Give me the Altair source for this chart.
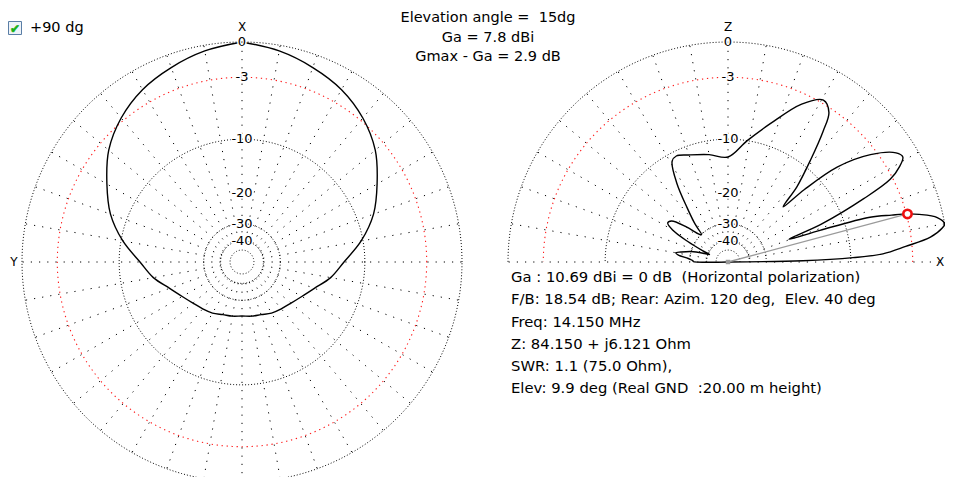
import altair as alt
import pandas as pd
import numpy as np

# ---------------- data ----------------
# Azimuth pattern (left plot): angle from +X (top) towards +Y (left), dB (symmetric)
az_angles = [0, 10, 20, 30, 40, 50, 60, 70, 80, 90, 100, 110, 120, 130, 140, 150, 160, 170, 180]
az_db = [0.0, -0.45, -1.05, -1.72, -2.70, -4.03, -5.90, -7.76, -10.26, -13.19,
         -15.34, -18.02, -19.9, -21.19, -22.0, -22.59, -23.48, -23.79, -24.1]

# Elevation pattern (right plot): elevation angle (deg), dB
el_angles = [0, 1, 2, 3, 5, 7, 9, 10, 12, 14, 15, 16, 17.5, 19, 20.5, 22, 25, 27, 29, 31, 33,
             37, 41, 43.5, 45, 47.5, 51, 54, 56, 59.5, 65, 73, 81, 90, 100, 110, 116, 119,
             123, 127, 131, 134, 136, 140, 144, 147, 150, 153, 156, 158, 160, 164, 168, 170,
             172, 175, 178, 179, 180]
el_db = [-99, -18.5, -9.7, -6.0, -3.6, -1.3, -0.24, 0.0, -0.48, -1.9, -2.9, -4.4, -6.7, -14.0,
         -20.9, -13.5, -6.6, -3.25, -2.0, -1.3, -1.6, -3.6, -7.2, -12.7, -17.8, -13.2, -8.9,
         -5.25, -3.4, -2.7, -4.0, -7.2, -10.0, -12.7, -12.05, -11.3, -10.7, -11.1, -14.6,
         -20.2, -25.4, -30.1, -29.3, -23.8, -19.7, -19.2, -21.2, -27.2, -35.4, -41.2, -37.3,
         -30.1, -26.1, -24.4, -25.4, -29.3, -31.6, -31.6, -99]

marker_el = [15]
marker_db = [-2.9]

ring_db_black = [0, -10, -30, -40, -50]
ring_db_red = [-3]
scale_labels = ["0", "-3", "-10", "-20", "-30", "-40"]
scale_label_db = [0, -3, -10, -20, -30, -40]

NB = "\u00a0"
header_lines = ["Elevation angle =" + NB + " 15dg", "Ga = 7.8 dBi", "Gmax - Ga = 2.9 dB"]
info_lines = [
    "Ga : 10.69 dBi = 0 dB" + NB + " (Horizontal polarization)",
    "F/B: 18.54 dB; Rear: Azim. 120 deg," + NB + " Elev. 40 deg",
    "Freq: 14.150 MHz",
    "Z: 84.150 + j6.121 Ohm",
    "SWR: 1.1 (75.0 Ohm),",
    "Elev: 9.9 deg (Real GND" + NB + " :20.00 m height)",
]
checkbox_label = "+90 dg"

# ---------------- layout constants ----------------
CXL, CXR, CY, R = 242, 728, 262, 220
FONT = "DejaVu Sans"
TXT = 14.5
W, H = 937, 469
XS = alt.Scale(domain=[8, 8 + W], nice=False, zero=False)
YS = alt.Scale(domain=[8, 8 + H], reverse=True, nice=False, zero=False)
RAD = f"{R}*pow(0.89, -datum.db/2)"


def X(f="x"):
    return alt.X(f"{f}:Q", scale=XS, axis=None)


def Y(f="y"):
    return alt.Y(f"{f}:Q", scale=YS, axis=None)


# grid rings
ring_rows = []
for side, amax in (("L", 360), ("R", 180)):
    for db in ring_db_black + ring_db_red:
        for a in np.arange(0, amax + 1, 1):
            ring_rows.append({"side": side, "db": db, "a": float(a),
                              "key": f"{side}{db}", "red": db in ring_db_red})
rings = pd.DataFrame(ring_rows)

ring_base = alt.Chart(rings).transform_calculate(
    r=RAD,
    cx=f"datum.side == 'L' ? {CXL} : {CXR}",
).transform_calculate(
    x="datum.cx + datum.r*cos(datum.a*PI/180)",
    y=f"{CY} - datum.r*sin(datum.a*PI/180)",
)
ring_black = ring_base.transform_filter("!datum.red").mark_line(
    color="#000000", strokeWidth=1, strokeDash=[1, 2], clip=True
).encode(x=X(), y=Y(), detail="key:N", order="a:Q")
ring_red = ring_base.transform_filter("datum.red").mark_line(
    color="#ff1a1a", strokeWidth=1.1, strokeDash=[1.3, 3.7], clip=True
).encode(x=X(), y=Y(), detail="key:N", order="a:Q")

# spokes every 10 degrees
spoke_rows = [{"side": "L", "a": a} for a in range(0, 360, 10)] + \
             [{"side": "R", "a": a} for a in range(0, 181, 10)]
spokes = alt.Chart(pd.DataFrame(spoke_rows)).transform_calculate(
    cx=f"datum.side == 'L' ? {CXL} : {CXR}",
    rin=f"{R}*pow(0.89, 20)",
).transform_calculate(
    x="datum.cx + datum.rin*cos(datum.a*PI/180)",
    y=f"{CY} - datum.rin*sin(datum.a*PI/180)",
    x2=f"datum.cx + {R}*cos(datum.a*PI/180)",
    y2=f"{CY} - {R}*sin(datum.a*PI/180)",
).mark_rule(color="#000000", strokeWidth=1, strokeDash=[1.2, 7], clip=True).encode(
    x=X(), y=Y(), x2="x2:Q", y2="y2:Q"
)

# scale labels on the vertical axes of both plots
lab_rows = [{"side": s, "t": t, "db": d} for s in ("L", "R")
            for t, d in zip(scale_labels, scale_label_db)]
labels_base = alt.Chart(pd.DataFrame(lab_rows)).transform_calculate(
    r=RAD,
    x=f"datum.side == 'L' ? {CXL} : {CXR}",
).transform_calculate(y=f"{CY} - datum.r")
labels_halo = labels_base.mark_text(font=FONT, fontSize=13, stroke="white", strokeWidth=3,
                                    baseline="middle", align="center").encode(
    x=X(), y=Y(), text="t:N")
labels_txt = labels_base.mark_text(font=FONT, fontSize=13, color="#000000",
                                   baseline="middle", align="center").encode(
    x=X(), y=Y(), text="t:N")

# axis letters
axl = pd.DataFrame({"t": ["X", "Y", "Z", "X"], "x": [CXL, 14, CXR, 936],
                    "y": [27, 262, 27, 262], "al": ["center", "center", "center", "left"]})
axis_letters = alt.Chart(axl[axl.al == "center"]).mark_text(
    font=FONT, fontSize=12, baseline="middle", align="center").encode(x=X(), y=Y(), text="t:N")
axis_letters2 = alt.Chart(axl[axl.al == "left"]).mark_text(
    font=FONT, fontSize=12, baseline="middle", align="left").encode(x=X(), y=Y(), text="t:N")

# azimuth pattern (mirror for symmetric side)
phi = az_angles + [360 - a for a in reversed(az_angles[:-1])]
pdb = az_db + list(reversed(az_db[:-1]))
az_df = pd.DataFrame({"phi": phi, "db": pdb, "i": range(len(phi))})
az_line = alt.Chart(az_df).transform_calculate(r=RAD).transform_calculate(
    x=f"{CXL} - datum.r*sin(datum.phi*PI/180)",
    y=f"{CY} - datum.r*cos(datum.phi*PI/180)",
).mark_line(color="#000000", strokeWidth=1.4, interpolate="catmull-rom").encode(
    x=X(), y=Y(), order="i:Q")

# elevation pattern
el_df = pd.DataFrame({"a": el_angles, "db": el_db, "i": range(len(el_angles))})
el_line = alt.Chart(el_df).transform_calculate(r=RAD).transform_calculate(
    x=f"{CXR} + datum.r*cos(datum.a*PI/180)",
    y=f"{CY} - datum.r*sin(datum.a*PI/180)",
).mark_line(color="#000000", strokeWidth=1.4, interpolate="catmull-rom").encode(
    x=X(), y=Y(), order="i:Q")

# marker + gray line
mk = pd.DataFrame({"a": marker_el, "db": marker_db})
mk_base = alt.Chart(mk).transform_calculate(r=RAD).transform_calculate(
    x=f"{CXR} + datum.r*cos(datum.a*PI/180)",
    y=f"{CY} - datum.r*sin(datum.a*PI/180)",
    x0=f"{CXR}", y0=f"{CY}",
)
gray_line = mk_base.mark_rule(color="#9a9a9a", strokeWidth=1.3).encode(
    x=X("x0"), y=Y("y0"), x2="x:Q", y2="y:Q")
center_dot = mk_base.mark_square(color="#9a9a9a", size=20, opacity=1).encode(
    x=X("x0"), y=Y("y0"))
marker = mk_base.mark_point(shape="circle", size=70, filled=False, color="#ee1111",
                            strokeWidth=2.6, fill="white", fillOpacity=1).encode(x=X(), y=Y())

# header text
hdr = pd.DataFrame({"t": header_lines, "x": [488, 488, 488], "y": [18, 38, 57]})
header = alt.Chart(hdr).mark_text(font=FONT, fontSize=TXT, align="center",
                                  baseline="middle").encode(x=X(), y=Y(), text="t:N")

# info text
inf = pd.DataFrame({"t": info_lines, "x": [511] * 6,
                    "y": [278, 300, 323, 345, 367, 389]})
info = alt.Chart(inf).mark_text(font=FONT, fontSize=14.8, align="left",
                                baseline="middle").encode(x=X(), y=Y(), text="t:N")

# checkbox
cb = pd.DataFrame({"x": [8.5], "x2": [21.5], "y": [21.5], "y2": [34.5]})
cb_box = alt.Chart(cb).mark_rect(fill="#eef3f8", stroke="#5a7ea6", strokeWidth=1).encode(
    x=X(), x2="x2:Q", y=Y(), y2="y2:Q")
cbt = pd.DataFrame({"t": ["✔"], "x": [15], "y": [28.5]})
cb_check = alt.Chart(cbt).mark_text(font="DejaVu Sans", fontSize=12, fill="#16b016",
                                    stroke="#16b016", strokeWidth=0.6,
                                    align="center", baseline="middle").encode(
    x=X(), y=Y(), text="t:N")
cbl = pd.DataFrame({"t": [checkbox_label], "x": [30], "y": [28]})
cb_label = alt.Chart(cbl).mark_text(font=FONT, fontSize=TXT, align="left",
                                    baseline="middle").encode(x=X(), y=Y(), text="t:N")

chart = alt.layer(
    ring_black, ring_red, spokes, az_line, el_line, labels_halo, labels_txt,
    axis_letters, axis_letters2, gray_line, center_dot, marker, header, info,
    cb_box, cb_check, cb_label,
).properties(
    width=W, height=H, padding=0,
    autosize=alt.AutoSizeParams(type="none"),
).configure(background="white").configure_view(stroke=None)

chart.save("out.html", embed_options={"renderer": "svg", "actions": False})
